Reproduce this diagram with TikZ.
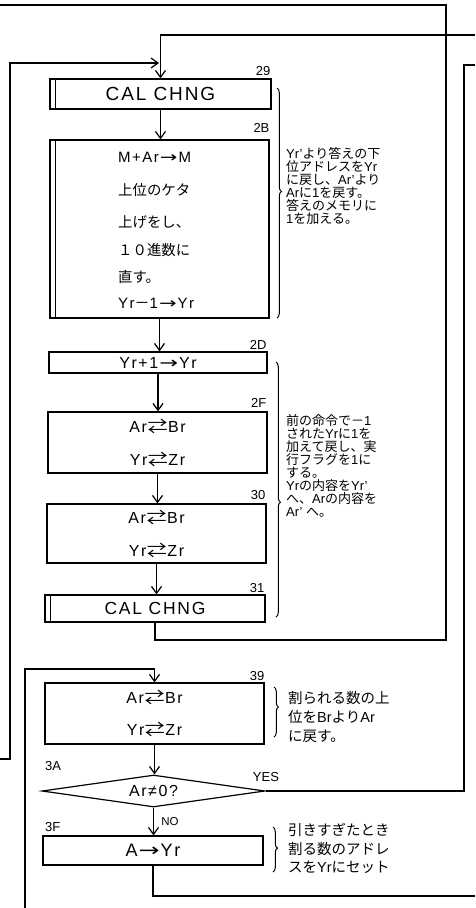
\documentclass[tikz,border=0pt]{standalone}
\usepackage{fontspec}
\setmainfont{Liberation Sans}
\newfontfamily\jpf{Noto Sans CJK JP}
\newfontfamily\dvs{DejaVu Sans}
\newfontfamily\bx[LetterSpace=10]{Liberation Sans}
\usetikzlibrary{arrows.meta,decorations.pathreplacing,shapes.geometric,calc}
\newcommand\J[1]{{\jpf #1}}
\newcommand\fs[2]{\fontsize{#1}{#2}\selectfont}
\newcommand\RA{\hspace{1pt}\scalebox{1.4}[1]{\dvs →}\hspace{1pt}}
\newcommand\XA{\hspace{0.5pt}\scalebox{1.25}[1]{\jpf ⇄}\hspace{0.5pt}}
\begin{document}
\begin{tikzpicture}[x=1pt,y=-1pt,
  box/.style={draw,line width=1.2pt,inner sep=0pt,align=center},
  conn/.style={line width=1.5pt},
  arr/.style={conn,-{Straight Barb[length=7pt,width=10pt,line width=1.2pt]}},
  lbl/.style={inner sep=0pt,font=\fs{13}{13}},
  txt/.style={inner sep=0pt,anchor=west},
  note/.style={inner sep=0pt,align=left,anchor=north west},
  brc/.style={decorate,decoration={brace,amplitude=4.5pt},line width=1pt},
]
\fill[white] (0,0) rectangle (475,908);
\useasboundingbox (0,0) rectangle (475,908);

% boxes
\node[box,minimum width=221,minimum height=30,font=\bx\fs{19}{19}] (b29) at (160.5,94) {CAL CHNG};
\draw[line width=1.2pt] ($(b29.north west)+(6,0)$) -- ($(b29.south west)+(6,0)$);
\node[box,minimum width=219,minimum height=178] (b2B) at (159.5,229) {};
\draw[line width=1.2pt] ($(b2B.north west)+(6,0)$) -- ($(b2B.south west)+(6,0)$);
\node[txt,font=\bx\fs{15}{15}] (t1) at (118,157) {M+Ar\RA M};
\node[txt,font=\jpf\fs{14.4}{15}] (t2) at (118,190) {上位のケタ};
\node[txt,font=\jpf\fs{14.4}{15}] (t3) at (118,222) {上げをし、};
\node[txt,font=\jpf\fs{14.4}{15}] (t4) at (118,250) {１０進数に};
\node[txt,font=\jpf\fs{14.4}{15}] (t5) at (118,277) {直す。};
\node[txt,font=\bx\fs{15}{15}] (t6) at (118,303) {Yr\J{－}1\RA Yr};

\node[box,minimum width=218,minimum height=21,font=\bx\fs{16}{16}] (b2D) at (158,362.5) {Yr+1\RA Yr};
\node[box,minimum width=219,minimum height=61,font=\bx\fs{16}{33}] (b2F) at (157.5,442.5) {Ar\XA Br\\Yr\XA Zr};
\node[box,minimum width=219,minimum height=59,font=\bx\fs{16}{33}] (b30) at (156.5,533.5) {Ar\XA Br\\Yr\XA Zr};
\node[box,minimum width=220,minimum height=27,font=\bx\fs{17.5}{17.5}] (b31) at (155,608.5) {CAL CHNG};
\draw[line width=1.2pt] ($(b31.north west)+(6,0)$) -- ($(b31.south west)+(6,0)$);
\node[box,minimum width=219,minimum height=61,font=\bx\fs{16}{32}] (b39) at (154.5,713.5) {Ar\XA Br\\Yr\XA Zr};
\node[draw,diamond,line width=1.2pt,shape aspect=7,inner sep=0pt,minimum width=223,minimum height=32,font=\bx\fs{16}{16}] (d3A) at (153.5,791) {Ar≠0?};
\node[box,minimum width=220,minimum height=29,font=\bx\fs{18}{18}] (b3F) at (153,850.5) {A\RA Yr};

% labels
\node[lbl,anchor=south east] (l29) at ($(b29.north east)+(-1,-3)$) {29};
\node[lbl,anchor=south east] (l2B) at ($(b2B.north east)+(0,-7)$) {2B};
\node[lbl,anchor=south east] (l2D) at ($(b2D.north east)+(-1,-2)$) {2D};
\node[lbl,anchor=south east] (l2F) at ($(b2F.north east)+(-1,-4)$) {2F};
\node[lbl,anchor=south east] (l30) at ($(b30.north east)+(-1,-4)$) {30};
\node[lbl,anchor=south east] (l31) at ($(b31.north east)+(-1,-2)$) {31};
\node[lbl,anchor=south east] (l39) at ($(b39.north east)+(0,-2)$) {39};
\node[lbl,anchor=south west] (l3A) at (45,771) {3A};
\node[lbl,anchor=south west] (l3F) at (45,832) {3F};
\node[lbl,font=\fs{11.5}{11.5}] (lno) at (170,822) {NO};
\node[lbl] (lyes) at (266,777) {YES};

% coordinates
\coordinate (topL) at (0,5);
\coordinate (lp2) at (446,5);
\coordinate (lp1) at (446,640);
\coordinate (inR) at (475,35);
\coordinate (lfB) at (0,759);
\coordinate (lfC) at (10,759);
\coordinate (lfD) at (10,63);
\coordinate (lfE) at (159,63);
\coordinate (lbB) at (25,908);
\coordinate (lbC) at (25,669);
\coordinate (yes1) at (464,791);
\coordinate (yes2) at (464,65);
\coordinate (yesR) at (475,65);
\coordinate (bt) at (0,896);
\coordinate (btR) at (475,896);

% connectors
\draw[arr] (inR) -- (b29.north |- inR) -- (b29.north);
\draw[arr] (lfB) -- (lfC) -- (lfD) -- (lfE);
\draw[arr] (b29.south) -- (b29.south |- b2B.north);
\draw[arr] (b2B.south) -- (b2B.south |- b2D.north);
\draw[arr] (b2D.south) -- (b2D.south |- b2F.north);
\draw[arr] (b2F.south) -- (b2F.south |- b30.north);
\draw[arr] (b30.south) -- (b30.south |- b31.north);
\draw[conn] (b31.south) -- (b31.south |- lp1) -- (lp1) -- (lp2) -- (topL);
\draw[arr] (lbB) -- (lbC) -- (b39.north |- lbC) -- (b39.north);
\draw[arr] (b39.south) -- (b39.south |- d3A.north);
\draw[arr] (d3A.south) -- (d3A.south |- b3F.north);
\draw[conn] (d3A.east) -- (yes1) -- (yes2) -- (yesR);
\draw[conn] (b3F.south) -- (b3F.south |- bt) -- (btR);

% braces and notes
\draw[brc,decoration={aspect=0.45}] (277,88) -- (277,318);
\node[note,font=\fs{13}{13.1}] (n1) at (286,147) {Yr'\J{より答えの下}\\\J{位アドレスを}Yr\\\J{に戻し、}Ar'\J{より}\\Ar\J{に}1\J{を戻す。}\\\J{答えのメモリに}\\1\J{を加える。}};
\draw[brc,decoration={aspect=0.55}] (276,362) -- (276,617);
\node[note,font=\fs{13}{13.1}] (n2) at (286,414) {\J{前の命令で－}1\\\J{された}Yr\J{に}1\J{を}\\\J{加えて戻し、実}\\\J{行フラグを}1\J{に}\\\J{する。}\\Yr\J{の内容を}Yr'\\\J{へ、}Ar\J{の内容を}\\Ar' \J{へ。}};
\draw[brc,decoration={aspect=0.4}] (274,687) -- (274,737);
\node[note,font=\fs{14.5}{19}] (n3) at (288,691.5) {\J{割られる数の上}\\\J{位を}Br\J{より}Ar\\\J{に戻す。}};
\draw[brc,decoration={aspect=0.47}] (273,827) -- (273,872);
\node[note,font=\fs{14.5}{18.5}] (n4) at (288,823.5) {\J{引きすぎたとき}\\\J{割る数のアドレ}\\\J{スを}Yr\J{にセット}};
\end{tikzpicture}
\end{document}
